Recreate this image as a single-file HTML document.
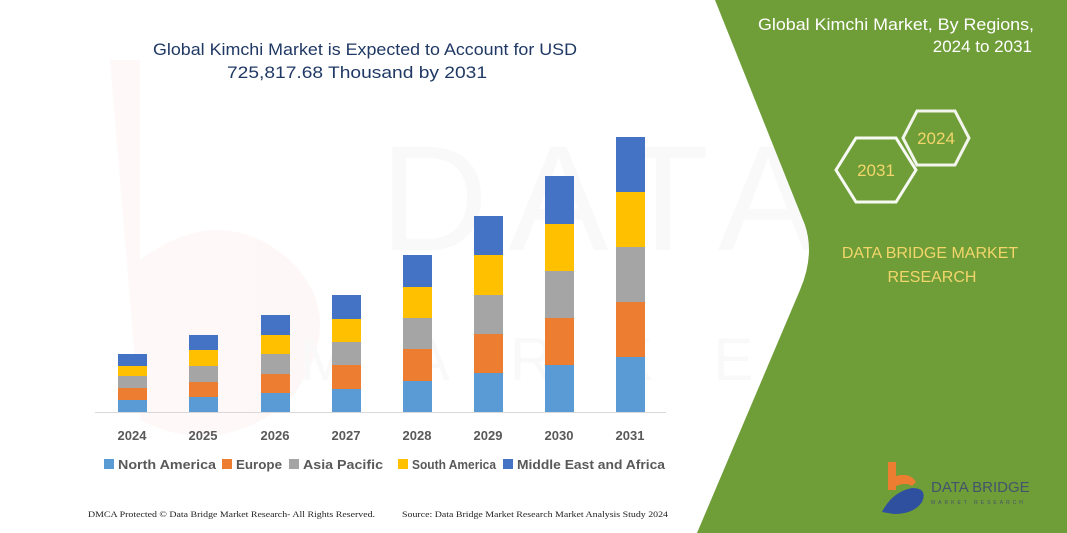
<!DOCTYPE html>
<html><head><meta charset="utf-8"><style>
html,body{margin:0;padding:0;background:#fff}
svg{display:block}
</style></head><body>
<svg width="1067" height="533" viewBox="0 0 1067 533" xmlns="http://www.w3.org/2000/svg" font-family="Liberation Sans, sans-serif">
<rect width="1067" height="533" fill="#fff"/>
<g opacity="0.04" fill="#888">
<path d="M110 60 h30 v200 q80 -60 150 0 q60 60 0 140 q-70 60 -150 20 z" fill="#e55"/>
<text x="380" y="250" font-size="150" letter-spacing="20">DATA BRIDGE</text>
<text x="300" y="380" font-size="60" letter-spacing="60">MARKET RESEARCH</text>
</g>
<path d="M715 0 L1067 0 L1067 533 L697 533 L800 290 Q815 255 805 225 Z" fill="#6f9d38"/>
<text x="1034" y="30" font-size="17" fill="#fff" text-anchor="end" textLength="276" lengthAdjust="spacingAndGlyphs">Global Kimchi Market, By Regions,</text>
<text x="1032" y="52" font-size="17" fill="#fff" text-anchor="end">2024 to 2031</text>
<polygon points="917,111 955,111 969,138 955,165 917,165 903,138" fill="none" stroke="#fff" stroke-width="3" opacity="0.9"/>
<polygon points="856,138 896,138 916,170 896,202 856,202 836,170" fill="#6f9d38" stroke="#fff" stroke-width="3" opacity="0.95"/>
<text x="936" y="144" font-size="17" fill="#f3d66b" text-anchor="middle">2024</text>
<text x="876" y="176" font-size="17" fill="#f3d66b" text-anchor="middle">2031</text>
<text x="930" y="258" font-size="16" fill="#f3d66b" text-anchor="middle">DATA BRIDGE MARKET</text>
<text x="932" y="282" font-size="16" fill="#f3d66b" text-anchor="middle">RESEARCH</text>
<path d="M888 462 h8 v14 q14 -4 20 6 l-4 4 q-6 -4 -16 0 v4 h-8 z" fill="#ed7d31"/>
<path d="M882 512 q10 -20 30 -24 q16 0 10 14 q-8 12 -28 12 z" fill="#2f4f9f"/>
<text x="931" y="492" font-size="15" fill="#44546a">DATA BRIDGE</text>
<text x="931" y="504" font-size="5" fill="#44546a" letter-spacing="3">MARKET RESEARCH</text>
<text x="153" y="55" font-size="17" fill="#1f3864" textLength="424" lengthAdjust="spacingAndGlyphs">Global Kimchi Market is Expected to Account for USD</text>
<text x="227" y="78" font-size="17" fill="#1f3864" textLength="260" lengthAdjust="spacingAndGlyphs">725,817.68 Thousand  by 2031</text>
<line x1="95" y1="412.5" x2="666" y2="412.5" stroke="#d9d9d9" stroke-width="1"/>
<g font-size="13" font-weight="bold" fill="#595959" text-anchor="middle">
<text x="132" y="440">2024</text><text x="203" y="440">2025</text><text x="275" y="440">2026</text><text x="346" y="440">2027</text>
<text x="417" y="440">2028</text><text x="488" y="440">2029</text><text x="559" y="440">2030</text><text x="630" y="440">2031</text>
</g>
<g font-size="12.5" font-weight="bold" fill="#595959">
<rect x="104" y="459" width="10" height="10" fill="#5b9bd5"/><text x="118" y="469" textLength="98" lengthAdjust="spacingAndGlyphs">North America</text>
<rect x="222" y="459" width="10" height="10" fill="#ed7d31"/><text x="236" y="469" textLength="46" lengthAdjust="spacingAndGlyphs">Europe</text>
<rect x="289" y="459" width="10" height="10" fill="#a5a5a5"/><text x="303" y="469" textLength="80" lengthAdjust="spacingAndGlyphs">Asia Pacific</text>
<rect x="398" y="459" width="10" height="10" fill="#ffc000"/><text x="412" y="469" textLength="84" lengthAdjust="spacingAndGlyphs">South America</text>
<rect x="503" y="459" width="10" height="10" fill="#4472c4"/><text x="517" y="469" textLength="148" lengthAdjust="spacingAndGlyphs">Middle East and Africa</text>
</g>
<g font-family="Liberation Serif, serif" font-size="8.5" fill="#222">
<text x="88" y="517" textLength="287" lengthAdjust="spacingAndGlyphs">DMCA Protected © Data Bridge Market Research-  All Rights Reserved.</text>
<text x="402" y="517" textLength="266" lengthAdjust="spacingAndGlyphs">Source: Data Bridge Market Research  Market Analysis Study 2024</text>
</g>
<g>
<rect x="118" y="400" width="29" height="12" fill="#5b9bd5"/><rect x="118" y="388" width="29" height="12" fill="#ed7d31"/><rect x="118" y="376" width="29" height="12" fill="#a5a5a5"/><rect x="118" y="366" width="29" height="10" fill="#ffc000"/><rect x="118" y="354" width="29" height="12" fill="#4472c4"/>
<rect x="189" y="397" width="29" height="15" fill="#5b9bd5"/><rect x="189" y="382" width="29" height="15" fill="#ed7d31"/><rect x="189" y="366" width="29" height="16" fill="#a5a5a5"/><rect x="189" y="350" width="29" height="16" fill="#ffc000"/><rect x="189" y="335" width="29" height="15" fill="#4472c4"/>
<rect x="261" y="393" width="29" height="19" fill="#5b9bd5"/><rect x="261" y="374" width="29" height="19" fill="#ed7d31"/><rect x="261" y="354" width="29" height="20" fill="#a5a5a5"/><rect x="261" y="335" width="29" height="19" fill="#ffc000"/><rect x="261" y="315" width="29" height="20" fill="#4472c4"/>
<rect x="332" y="389" width="29" height="23" fill="#5b9bd5"/><rect x="332" y="365" width="29" height="24" fill="#ed7d31"/><rect x="332" y="342" width="29" height="23" fill="#a5a5a5"/><rect x="332" y="319" width="29" height="23" fill="#ffc000"/><rect x="332" y="295" width="29" height="24" fill="#4472c4"/>
<rect x="403" y="381" width="29" height="31" fill="#5b9bd5"/><rect x="403" y="349" width="29" height="32" fill="#ed7d31"/><rect x="403" y="318" width="29" height="31" fill="#a5a5a5"/><rect x="403" y="287" width="29" height="31" fill="#ffc000"/><rect x="403" y="255" width="29" height="32" fill="#4472c4"/>
<rect x="474" y="373" width="29" height="39" fill="#5b9bd5"/><rect x="474" y="334" width="29" height="39" fill="#ed7d31"/><rect x="474" y="295" width="29" height="39" fill="#a5a5a5"/><rect x="474" y="255" width="29" height="40" fill="#ffc000"/><rect x="474" y="216" width="29" height="39" fill="#4472c4"/>
<rect x="545" y="365" width="29" height="47" fill="#5b9bd5"/><rect x="545" y="318" width="29" height="47" fill="#ed7d31"/><rect x="545" y="271" width="29" height="47" fill="#a5a5a5"/><rect x="545" y="224" width="29" height="47" fill="#ffc000"/><rect x="545" y="176" width="29" height="48" fill="#4472c4"/>
<rect x="616" y="357" width="29" height="55" fill="#5b9bd5"/><rect x="616" y="302" width="29" height="55" fill="#ed7d31"/><rect x="616" y="247" width="29" height="55" fill="#a5a5a5"/><rect x="616" y="192" width="29" height="55" fill="#ffc000"/><rect x="616" y="137" width="29" height="55" fill="#4472c4"/>
</g>
</svg>
</body></html>
